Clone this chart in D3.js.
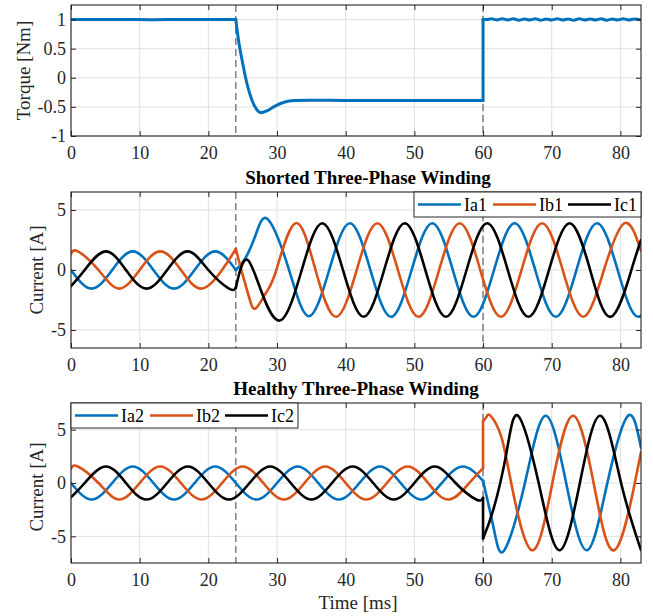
<!DOCTYPE html>
<html><head><meta charset="utf-8">
<script src="https://cdn.jsdelivr.net/npm/d3@7"></script>
<style>
body{margin:0;background:#fff;}
svg{display:block;font-family:"Liberation Serif","Times New Roman",serif;}
svg text{font-family:"Liberation Serif","Times New Roman",serif !important;}
</style></head><body>
<svg id="chart" width="653" height="616"></svg>
<script>
// ---------- data ----------
const xTicks = [0,10,20,30,40,50,60,70,80];
const torqueTicks = [-1,-0.5,0,0.5,1];
const currentTicks = [-5,0,5];
const markerTimes = [24,60];
const titles = ["Shorted Three-Phase Winding","Healthy Three-Phase Winding"];
const legend1 = ["Ia1","Ib1","Ic1"];
const legend2 = ["Ia2","Ib2","Ic2"];
const colors = ["#0072BD","#D95319","#000000"];

const torque = [[0,1.0],[6,1.003],[12,0.998],[18,1.002],[24,1.0],[24,1.0],
 [24.4,0.64],[25,0.25],[25.6,-0.09],[26.3,-0.37],[27,-0.54],[27.6,-0.6],[28.5,-0.57],[29.5,-0.5],
 [31,-0.42],[32.5,-0.39],[35,-0.385],[40,-0.39],[45,-0.39],[50,-0.39],[55,-0.39],[60,-0.39],
 [60,1.0],[60.5,1.0],[61.2,1.012],[62,0.993],[62.8,1.012],[63.6,0.993],[64.4,1.012],[65.2,0.99],[66,1.01],
 [66.8,0.993],[67.6,1.012],[68.4,0.99],[69.2,1.01],[70,0.993],[70.8,1.012],[71.6,0.993],[72.4,1.01],
 [73.2,0.99],[74,1.012],[74.8,0.993],[75.6,1.01],[76.4,0.993],[77.2,1.012],[78,0.99],[78.8,1.01],
 [79.6,0.993],[80.4,1.012],[81.2,0.993],[82,1.01],[83,0.997]];

const ia1 = [[0,0],[3,-1.55],[6,0],[9,1.55],[12,0],[15,-1.55],[18,0],[21,1.55],[24,0],[24,0],
 [25.5,1.1],[27,3.1],[28.7,4.2],[31.7,0.1],[34.6,-3.85],[37.6,0],[40.6,3.9],[43.6,0],[46.6,-3.9],
 [49.6,0],[52.6,3.9],[55.6,0],[58.6,-3.9],[61.6,0],[64.6,3.9],[67.6,0],[70.6,-3.9],[73.6,0],
 [76.6,3.9],[79.6,0],[82.6,-3.9],[85.6,0]];
const ib1 = [[0,1.34],[1,1.55],[4,0],[7,-1.55],[10,0],[13,1.55],[16,0],[19,-1.55],[22,0],[24,1.75],[24,1.75],
 [25,-0.4],[26,-2.4],[26.9,-3.2],[28.4,-1.9],[29.9,0],[32.7,3.9],[35.6,0],[38.6,-3.9],[41.6,0],[44.6,3.9],
 [47.6,0],[50.6,-3.9],[53.6,0],[56.6,3.9],[59.6,0],[62.6,-3.9],[65.6,0],[68.6,3.9],[71.6,0],
 [74.6,-3.9],[77.6,0],[80.6,3.9],[83,1.6]];
const ic1 = [[0,-1.34],[2,0],[5,1.55],[8,0],[11,-1.55],[14,0],[17,1.55],[20,0],[23,-1.55],[24,-1.5],[24,-1.5],
 [24.7,0.1],[25.8,0.8],[27.6,-1.6],[30.5,-4.2],[33.6,0],[36.6,3.9],[39.6,0],[42.6,-3.9],[45.6,0],
 [48.6,3.9],[51.6,0],[54.6,-3.9],[57.6,0],[60.6,3.9],[63.6,0],[66.6,-3.9],[69.6,0],[72.6,3.9],
 [75.6,0],[78.6,-3.9],[81.6,0],[83,2.5]];

const ia2 = [[0,0],[3,-1.55],[6,0],[9,1.55],[12,0],[15,-1.55],[18,0],[21,1.55],[24,0],[27,-1.55],[30,0],
 [33,1.55],[36,0],[39,-1.55],[42,0],[45,1.55],[48,0],[51,-1.55],[54,0],[57,1.55],[60,0.2],[60,0.2],
 [61.6,-4.4],[63.1,-6.3],[66.1,0],[69.1,6.3],[72.1,0],[75.1,-6.3],[78.1,0],[81.1,6.3],[83,3.3]];
const ib2 = [[0,1.34],[1,1.55],[4,0],[7,-1.55],[10,0],[13,1.55],[16,0],[19,-1.55],[22,0],[25,1.55],[28,0],
 [31,-1.55],[34,0],[37,1.55],[40,0],[43,-1.55],[46,0],[49,1.55],[52,0],[55,-1.55],[58,0],[60,1.4],
 [60,5.8],[60.5,6.2],[61.1,6.3],[62.6,4.45],[64.1,0],[67.1,-6.3],[70.1,0],[73.1,6.3],[76.1,0],[79.1,-6.3],[82.1,0],[83,2.9]];
const ic2 = [[0,-1.34],[2,0],[5,1.55],[8,0],[11,-1.55],[14,0],[17,1.55],[20,0],[23,-1.55],[26,0],[29,1.55],
 [32,0],[35,-1.55],[38,0],[41,1.55],[44,0],[47,-1.55],[50,0],[53,1.55],[56,0],[59,-1.55],[60,-1.4],
 [60,-5.2],[61.5,-2.5],[63.4,2.8],[65.1,6.3],[68.1,0],[71.1,-6.3],[74.1,0],[77.1,6.3],[80.1,0],[83,-6.3]];

// ---------- layout ----------
const FONT = '"Liberation Serif","Times New Roman",serif';
const svg = d3.select("#chart");
const X0 = 71, X1 = 641;
const x = d3.scaleLinear().domain([0,83]).range([X0,X1]);
const axisColor = "#262626";

const panels = [
  {id:"p1", domain:[-1,1.25], range:[136,5], ticks:torqueTicks, ylabel:"Torque [Nm]", ylx:23,
   series:[{d:torque,c:colors[0],w:3,curve:d3.curveMonotoneX}]},
  {id:"p2", domain:[-6.5,6.5], range:[348,192], ticks:currentTicks, ylabel:"Current [A]", ylx:36,
   title:titles[0], tx:368, ty:184, legend:legend1, legendX:414, legendY:192,
   series:[{d:ia1,c:colors[0],w:2.6},{d:ib1,c:colors[1],w:2.6},{d:ic1,c:colors[2],w:2.6}]},
  {id:"p3", domain:[-7.5,7.5], range:[563,403], ticks:currentTicks, ylabel:"Current [A]", ylx:36, yly:487,
   title:titles[1], tx:356, ty:395, legend:legend2, legendX:71, legendY:403, xlabel:"Time [ms]",
   series:[{d:ia2,c:colors[0],w:2.6},{d:ib2,c:colors[1],w:2.6},{d:ic2,c:colors[2],w:2.6}]}
];

function splitSegments(pts, curve){
  const segs=[]; let cur=[pts[0]];
  for(let i=1;i<pts.length;i++){
    if(pts[i][0]===pts[i-1][0]){
      segs.push({pts:cur,curve:curve});
      segs.push({pts:[pts[i-1],pts[i]],curve:d3.curveLinear});
      cur=[pts[i]];
    } else cur.push(pts[i]);
  }
  segs.push({pts:cur,curve:curve});
  return segs;
}

panels.forEach(p=>{
  const y = d3.scaleLinear().domain(p.domain).range(p.range);
  const top = p.range[1], bot = p.range[0];
  const g = svg.append("g");
  // grid
  g.append("g").selectAll("line").data(xTicks).join("line")
    .attr("x1",d=>x(d)).attr("x2",d=>x(d)).attr("y1",top).attr("y2",bot)
    .attr("stroke","#e0e0e0").attr("stroke-width",1);
  g.append("g").selectAll("line").data(p.ticks).join("line")
    .attr("x1",X0).attr("x2",X1).attr("y1",d=>y(d)).attr("y2",d=>y(d))
    .attr("stroke","#e0e0e0").attr("stroke-width",1);
  // clip
  svg.append("clipPath").attr("id","clip-"+p.id).append("rect")
    .attr("x",X0).attr("y",top).attr("width",X1-X0).attr("height",bot-top);
  const plot = g.append("g").attr("clip-path","url(#clip-"+p.id+")");
  // marker dashed lines
  plot.selectAll("line.mk").data(markerTimes).join("line").attr("class","mk")
    .attr("x1",d=>x(d)).attr("x2",d=>x(d)).attr("y1",top).attr("y2",bot)
    .attr("stroke","#6e6e6e").attr("stroke-width",1.3).attr("stroke-dasharray","7,4");
  // series
  p.series.forEach(s=>{
    const segs = splitSegments(s.d, s.curve || d3.curveNatural);
    segs.forEach(seg=>{
      const line = d3.line().x(d=>x(d[0])).y(d=>y(d[1])).curve(seg.curve);
      plot.append("path").attr("d",line(seg.pts)).attr("fill","none")
        .attr("stroke",s.c).attr("stroke-width",s.w)
        .attr("stroke-linejoin","round").attr("stroke-linecap","round");
    });
  });
  // axes (ticks inside)
  const fmt = d=>String(d);
  const ax = g.append("g").attr("transform",`translate(0,${bot})`)
    .call(d3.axisBottom(x).tickValues(xTicks).tickFormat(fmt).tickSizeInner(-5).tickSizeOuter(0).tickPadding(10));
  const axT = g.append("g").attr("transform",`translate(0,${top})`)
    .call(d3.axisTop(x).tickValues(xTicks).tickFormat("").tickSizeInner(-5).tickSizeOuter(0));
  const ay = g.append("g").attr("transform",`translate(${X0},0)`)
    .call(d3.axisLeft(y).tickValues(p.ticks).tickFormat(fmt).tickSizeInner(-5).tickSizeOuter(0).tickPadding(5));
  const ayR = g.append("g").attr("transform",`translate(${X1},0)`)
    .call(d3.axisRight(y).tickValues(p.ticks).tickFormat("").tickSizeInner(-5).tickSizeOuter(0));
  [ax,axT,ay,ayR].forEach(a=>{
    a.attr("font-family",FONT).attr("font-size",18);
    a.selectAll(".domain").remove();
    a.selectAll("line").attr("stroke",axisColor);
    a.selectAll("text").attr("fill",axisColor).attr("font-family",FONT).attr("font-size",18);
  });
  // frame
  g.append("rect").attr("x",X0).attr("y",top).attr("width",X1-X0).attr("height",bot-top)
    .attr("fill","none").attr("stroke",axisColor).attr("stroke-width",1.1);
  // y label
  const yc = p.yly || (top+bot)/2;
  g.append("text").attr("transform",`translate(${p.ylx},${yc}) rotate(-90)`)
    .attr("text-anchor","middle").attr("dominant-baseline","central")
    .attr("fill",axisColor).attr("font-family",FONT).attr("font-size",19).text(p.ylabel);
  // title
  if(p.title){
    g.append("text").attr("x",p.tx).attr("y",p.ty).attr("text-anchor","middle")
      .attr("fill","#000").attr("font-family",FONT).attr("font-size",19).attr("font-weight","bold").text(p.title);
  }
  if(p.xlabel){
    g.append("text").attr("x",358).attr("y",609).attr("text-anchor","middle")
      .attr("fill",axisColor).attr("font-family",FONT).attr("font-size",19).text(p.xlabel);
  }
  // legend
  if(p.legend){
    const lg = g.append("g").attr("transform",`translate(${p.legendX},${p.legendY})`);
    lg.append("rect").attr("x",0).attr("y",0).attr("width",227).attr("height",25)
      .attr("fill","#fff").attr("stroke",axisColor).attr("stroke-width",1);
    p.legend.forEach((name,i)=>{
      const x0 = 4 + i*75;
      lg.append("line").attr("x1",x0).attr("x2",x0+43).attr("y1",12.5).attr("y2",12.5)
        .attr("stroke",colors[i]).attr("stroke-width",2.6);
      lg.append("text").attr("x",x0+46).attr("y",12.5).attr("dominant-baseline","central")
        .attr("fill","#000").attr("font-family",FONT).attr("font-size",18).text(name);
    });
  }
});
</script>
</body></html>
